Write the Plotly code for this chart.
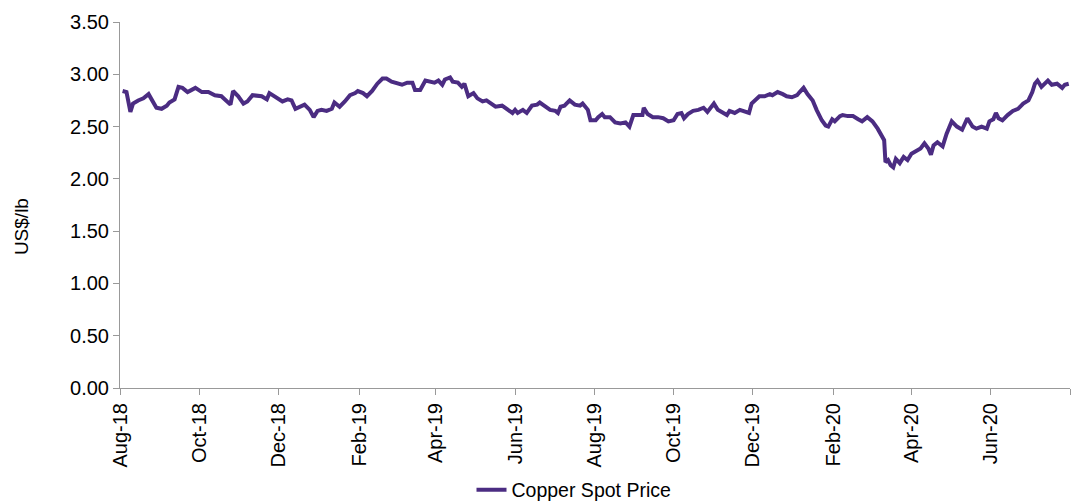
import plotly.graph_objects as go

dates = [
 "2018-08-03","2018-08-06","2018-08-09","2018-08-11","2018-08-15","2018-08-19","2018-08-23","2018-08-26","2018-08-29",
 "2018-09-02","2018-09-06","2018-09-08","2018-09-12","2018-09-15","2018-09-18","2018-09-22","2018-09-28",
 "2018-10-03","2018-10-08","2018-10-13","2018-10-18","2018-10-25","2018-10-27","2018-10-31",
 "2018-11-04","2018-11-07","2018-11-11","2018-11-18","2018-11-22","2018-11-24","2018-11-28",
 "2018-12-02","2018-12-04","2018-12-08","2018-12-11","2018-12-14","2018-12-18","2018-12-21","2018-12-25","2018-12-28","2018-12-31",
 "2019-01-03","2019-01-07","2019-01-11","2019-01-13","2019-01-17","2019-01-21","2019-01-25","2019-01-29","2019-01-31",
 "2019-02-04","2019-02-07","2019-02-11","2019-02-15","2019-02-19","2019-02-22","2019-02-26",
 "2019-03-02","2019-03-06","2019-03-10","2019-03-14","2019-03-16","2019-03-20","2019-03-24","2019-03-28","2019-03-31",
 "2019-04-03","2019-04-06","2019-04-08","2019-04-12","2019-04-14","2019-04-18","2019-04-21","2019-04-23","2019-04-26","2019-04-30",
 "2019-05-03","2019-05-07","2019-05-10","2019-05-13","2019-05-17","2019-05-22","2019-05-26","2019-05-30",
 "2019-06-01","2019-06-03","2019-06-07","2019-06-10","2019-06-14","2019-06-18","2019-06-20","2019-06-24","2019-06-28",
 "2019-07-02","2019-07-04","2019-07-06","2019-07-09","2019-07-13","2019-07-17","2019-07-21","2019-07-23","2019-07-27","2019-07-29",
 "2019-08-02","2019-08-04","2019-08-07","2019-08-09","2019-08-13","2019-08-17","2019-08-21","2019-08-25","2019-08-28","2019-08-31",
 "2019-09-04","2019-09-07","2019-09-08","2019-09-11","2019-09-15","2019-09-19","2019-09-23","2019-09-27",
 "2019-10-01","2019-10-04","2019-10-07","2019-10-09","2019-10-12","2019-10-16","2019-10-20","2019-10-24","2019-10-27","2019-10-29",
 "2019-11-01","2019-11-04","2019-11-08","2019-11-11","2019-11-13","2019-11-17","2019-11-21","2019-11-25","2019-11-28","2019-11-30",
 "2019-12-04","2019-12-06","2019-12-10","2019-12-14","2019-12-16","2019-12-20","2019-12-24","2019-12-27","2019-12-31",
 "2020-01-04","2020-01-06","2020-01-09","2020-01-12","2020-01-16","2020-01-19","2020-01-23","2020-01-26","2020-01-28","2020-01-31",
 "2020-02-02","2020-02-06","2020-02-08","2020-02-12","2020-02-16","2020-02-20","2020-02-23","2020-02-27",
 "2020-03-02","2020-03-06","2020-03-09","2020-03-11","2020-03-12","2020-03-14","2020-03-16","2020-03-18","2020-03-20","2020-03-23","2020-03-26","2020-03-29",
 "2020-04-01","2020-04-05","2020-04-08","2020-04-11","2020-04-14","2020-04-16","2020-04-18","2020-04-21","2020-04-25","2020-04-28",
 "2020-05-02","2020-05-06","2020-05-10","2020-05-14","2020-05-18","2020-05-21","2020-05-25","2020-05-29","2020-05-31",
 "2020-06-03","2020-06-05","2020-06-07","2020-06-10","2020-06-14","2020-06-18","2020-06-22","2020-06-26","2020-06-30",
 "2020-07-03","2020-07-05","2020-07-07","2020-07-10","2020-07-13","2020-07-15","2020-07-18","2020-07-22","2020-07-26","2020-07-28","2020-07-31",
]

copper_price = [
 2.84,2.83,2.64,2.72,2.75,2.77,2.81,2.75,2.68,
 2.67,2.70,2.73,2.76,2.88,2.87,2.83,2.87,
 2.83,2.83,2.80,2.79,2.71,2.84,2.79,
 2.72,2.74,2.80,2.79,2.76,2.82,2.79,
 2.76,2.74,2.76,2.75,2.67,2.69,2.71,2.66,2.59,2.65,
 2.66,2.65,2.67,2.73,2.69,2.74,2.80,2.82,2.84,
 2.82,2.79,2.84,2.91,2.96,2.96,2.93,
 2.91,2.90,2.92,2.92,2.85,2.85,2.94,2.93,2.92,
 2.94,2.90,2.95,2.97,2.93,2.92,2.88,2.91,2.79,2.82,
 2.77,2.74,2.75,2.72,2.69,2.70,2.66,2.63,
 2.66,2.63,2.66,2.63,2.70,2.71,2.73,2.70,2.66,
 2.65,2.63,2.69,2.70,2.75,2.71,2.70,2.72,2.66,2.56,
 2.56,2.59,2.62,2.59,2.59,2.54,2.53,2.54,2.50,2.61,
 2.61,2.61,2.68,2.62,2.59,2.59,2.58,2.55,
 2.56,2.62,2.63,2.58,2.62,2.65,2.66,2.68,2.64,2.67,
 2.72,2.66,2.63,2.61,2.65,2.63,2.66,2.64,2.63,2.72,
 2.77,2.79,2.79,2.81,2.80,2.83,2.81,2.79,2.78,
 2.80,2.83,2.87,2.81,2.75,2.66,2.56,2.51,2.50,2.57,
 2.55,2.60,2.61,2.60,2.60,2.57,2.55,2.59,
 2.55,2.48,2.42,2.37,2.16,2.18,2.13,2.11,2.19,2.15,2.21,2.18,
 2.24,2.27,2.29,2.34,2.29,2.23,2.32,2.35,2.31,2.43,
 2.55,2.50,2.47,2.58,2.50,2.48,2.50,2.48,2.55,
 2.57,2.63,2.58,2.56,2.61,2.65,2.67,2.72,2.75,
 2.83,2.91,2.94,2.88,2.91,2.94,2.90,2.91,2.87,2.90,2.91,
]

tick_dates = ["2018-08-01","2018-10-01","2018-12-01","2019-02-01","2019-04-01","2019-06-01",
              "2019-08-01","2019-10-01","2019-12-01","2020-02-01","2020-04-01","2020-06-01",
              "2020-08-01"]
tick_labels = ["Aug-18","Oct-18","Dec-18","Feb-19","Apr-19","Jun-19",
               "Aug-19","Oct-19","Dec-19","Feb-20","Apr-20","Jun-20",""]
y_ticks = [0, 0.5, 1.0, 1.5, 2.0, 2.5, 3.0, 3.5]

fig = go.Figure()
fig.add_trace(go.Scatter(
    x=dates, y=copper_price, mode="lines", name="Copper Spot Price",
    line=dict(color="#4B2C82", width=4),
))

font_family = "Liberation Sans, Arial, sans-serif"
fig.update_layout(
    width=1071, height=504,
    margin=dict(l=120, r=1, t=22, b=116, autoexpand=False),
    paper_bgcolor="white", plot_bgcolor="white",
    font=dict(family=font_family, color="#000000", size=19),
    showlegend=True,
    legend=dict(orientation="h", x=0.370, xanchor="left", y=-0.279, yanchor="middle",
                font=dict(size=19.5)),
    xaxis=dict(
        range=["2018-08-01", "2020-08-01"],
        tickvals=tick_dates, ticktext=tick_labels, tickangle=-90,
        showgrid=False, zeroline=False, automargin=False,
        showline=True, linecolor="#999999", linewidth=1,
        ticks="outside", ticklen=6, tickcolor="#999999",
        tickfont=dict(size=20),
    ),
    yaxis=dict(
        range=[0, 3.5], tickvals=y_ticks, tickformat=".2f",
        showgrid=False, zeroline=False, automargin=False,
        showline=True, linecolor="#999999", linewidth=1,
        ticks="outside", ticklen=6, tickcolor="#999999",
        tickfont=dict(size=20),
    ),
    annotations=[dict(
        text="US$/lb", textangle=-90, showarrow=False,
        xref="paper", yref="paper", x=-0.103, y=0.44,
        xanchor="center", yanchor="middle", font=dict(size=19),
    )],
)

fig.write_html(
    "out.html",
    config={"displayModeBar": False},
    post_script="document.body.style.margin='0';document.body.style.overflow='hidden';",
)
